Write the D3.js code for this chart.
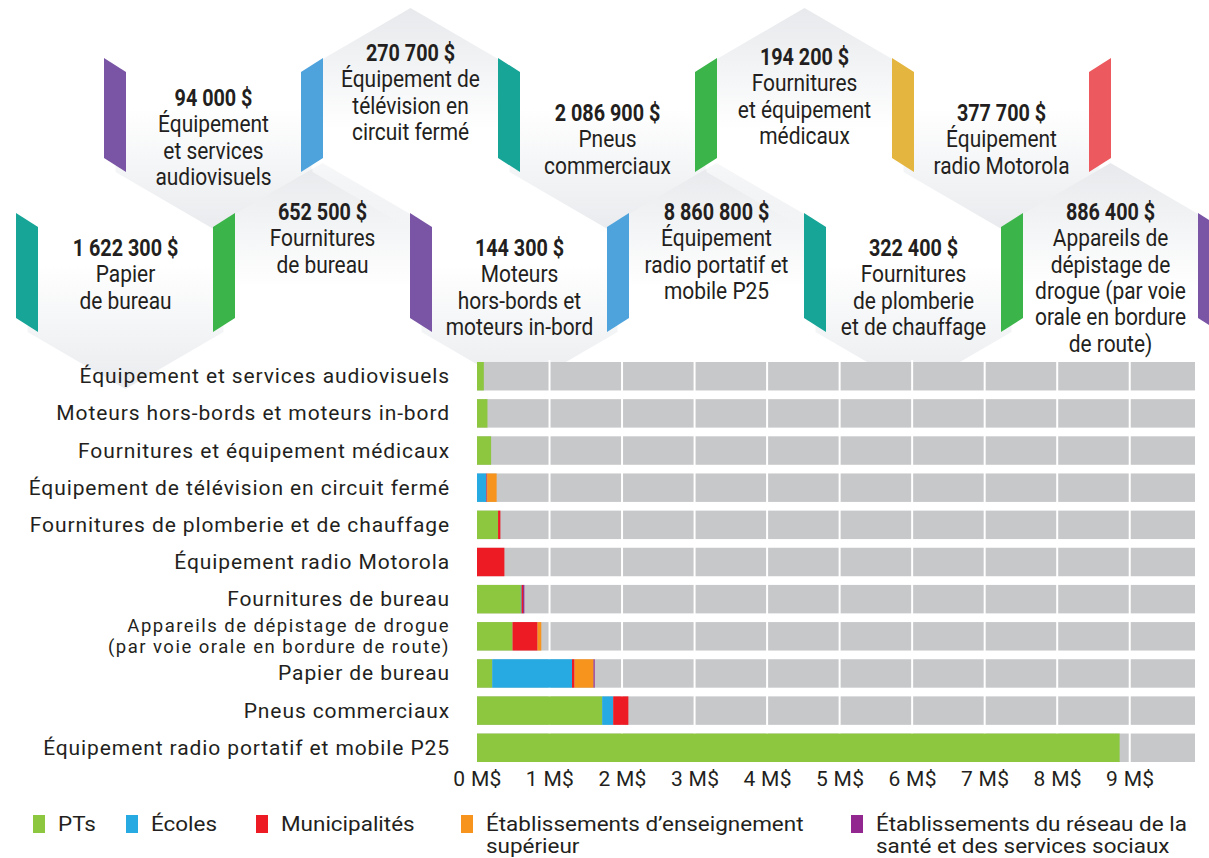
<!DOCTYPE html>
<html>
<head>
<meta charset="utf-8" />
<title>Achats</title>
<style>
  body { margin: 0; background: #fff; }
  text { fill: #231f20; }
</style>
</head>
<body>
<svg id="chart" width="1209" height="858"></svg>
<script src="https://d3js.org/d3.v7.min.js"></script>
<script>

// --- donnees ---
var categories = [
  "Équipement et services audiovisuels",
  "Moteurs hors-bords et moteurs in-bord",
  "Fournitures et équipement médicaux",
  "Équipement de télévision en circuit fermé",
  "Fournitures de plomberie et de chauffage",
  "Équipement radio Motorola",
  "Fournitures de bureau",
  "Appareils de dépistage de drogue \n(par voie orale en bordure de route)",
  "Papier de bureau",
  "Pneus commerciaux",
  "Équipement radio portatif et mobile P25"
];

var seriesNames = ["PTs", "Écoles", "Municipalités",
  "Établissements d’enseignement\nsupérieur",
  "Établissements du réseau de la\nsanté et des services sociaux"];
var seriesColors = ["#8dc63f", "#27aae1", "#ed1c24", "#f7941d", "#92278f"];

// valeurs en M$
var pts           = [0.094, 0.1443, 0.1942, 0,      0.2904, 0,      0.605,  0.490,  0.210,  1.726, 8.8608];
var ecoles        = [0,     0,      0,      0.130,  0,      0,      0.010,  0,      1.100,  0.152, 0];
var municipalites = [0,     0,      0,      0.012,  0.032,  0.3777, 0.020,  0.345,  0.035,  0.209, 0];
var enseignement  = [0,     0,      0,      0.1287, 0,      0,      0,      0.0514, 0.262,  0,     0];
var sante         = [0,     0,      0,      0,      0,      0,      0.0175, 0,      0.0153, 0,     0];

var xTicks = [0, 1, 2, 3, 4, 5, 6, 7, 8, 9];

// cellules hexagonales, de gauche a droite (bas, haut, bas, haut...)
var hexAmounts = [1622300, 94000, 652500, 270700, 144300, 2086900, 8860800, 194200, 322400, 377700, 886400];
var hexLabels = [
  ["Papier", "de bureau"],
  ["Équipement", "et services", "audiovisuels"],
  ["Fournitures", "de bureau"],
  ["Équipement de", "télévision en", "circuit fermé"],
  ["Moteurs", "hors-bords et", "moteurs in-bord"],
  ["Pneus", "commerciaux"],
  ["Équipement", "radio portatif et", "mobile P25"],
  ["Fournitures", "et équipement", "médicaux"],
  ["Fournitures", "de plomberie", "et de chauffage"],
  ["Équipement", "radio Motorola"],
  ["Appareils de", "dépistage de", "drogue (par voie", "orale en bordure", "de route)"]
];
var topBarColors = ["#7a55a6", "#4fa3dc", "#17a597", "#3bb54a", "#e4b63f", "#ec5a5f"];
var bottomBarColors = ["#17a597", "#3bb54a", "#7a55a6", "#4fa3dc", "#17a597", "#3bb54a", "#7a55a6"];

// mise en page
var hexTextTop = [248, 98, 212, 53, 248, 113, 212, 57, 248, 113, 212];
var legendX = [33, 126, 256, 461, 851];

var svg = d3.select("#chart");
var frFormat = d3.formatLocale({decimal: ",", thousands: "\u00a0", grouping: [3], currency: ["", " $"]}).format(",d");

// ---------- infographie hexagonale ----------
var defs = svg.append("defs");
var gUp = defs.append("linearGradient").attr("id", "gUp").attr("x1", 0).attr("y1", 0).attr("x2", 0).attr("y2", 1);
gUp.append("stop").attr("offset", "0%").attr("stop-color", "#e7e9ec");
gUp.append("stop").attr("offset", "55%").attr("stop-color", "#ffffff");
gUp.append("stop").attr("offset", "100%").attr("stop-color", "#ffffff").attr("stop-opacity", 0);
var gDown = defs.append("linearGradient").attr("id", "gDown").attr("x1", 0).attr("y1", 0).attr("x2", 0).attr("y2", 1);
gDown.append("stop").attr("offset", "0%").attr("stop-color", "#ffffff").attr("stop-opacity", 0);
gDown.append("stop").attr("offset", "45%").attr("stop-color", "#ffffff");
gDown.append("stop").attr("offset", "100%").attr("stop-color", "#e9ebee");

var cells = hexAmounts.map(function(v, i) {
  var top = i % 2 == 1;
  var k = top ? (i - 1) / 2 : i / 2;
  return {
    amount: v,
    lines: hexLabels[i],
    cx: top ? 213.5 + 197 * k : 125.5 + 197 * k,
    y0: top ? 58 : 213,
    y1: top ? 172 : 332,
    up: (i % 4 == 2 || i % 4 == 3),
    textTop: hexTextTop[i]
  };
});

var hexG = svg.append("g");
hexG.selectAll("path").data(cells).enter().append("path")
  .attr("d", function(c) {
    var pts = [[c.cx - 98, c.y0 + 7], [c.cx, c.y0 + 7 - 57], [c.cx + 98, c.y0 + 7],
               [c.cx + 98, c.y1], [c.cx, c.y1 + 57], [c.cx - 98, c.y1]];
    return "M" + pts.join("L") + "Z";
  })
  .attr("fill", function(c) { return c.up ? "url(#gUp)" : "url(#gDown)"; });

function barPath(x, y0, y1, back) {
  var w = 22, s = 14;
  if (back) return "M" + [[x, y0], [x + w, y0 + s], [x + w, y1 + s], [x, y1]].join("L") + "Z";
  return "M" + [[x, y0 + s], [x + w, y0], [x + w, y1], [x, y1 + s]].join("L") + "Z";
}

svg.append("g").selectAll("path").data(topBarColors).enter().append("path")
  .attr("d", function(c, k) { return barPath(104 + 197 * k, 58, 158, k % 2 == 0); })
  .attr("fill", function(c) { return c; });
svg.append("g").selectAll("path").data(bottomBarColors).enter().append("path")
  .attr("d", function(c, k) { return barPath(16 + 197 * k, 213, 318, k % 2 == 0); })
  .attr("fill", function(c) { return c; });

var cellText = svg.append("g").selectAll("g").data(cells).enter().append("g");
cellText.append("text")
  .attr("text-anchor", "middle")
  .attr("transform", function(c) { return "translate(" + c.cx + "," + (c.textTop + 8) + ") scale(0.86,1)"; })
  .style("font-family", "Roboto, sans-serif")
  .style("font-weight", "bold")
  .style("font-size", "23px")
  .text(function(c) { return frFormat(c.amount) + " $"; });
cellText.each(function(c) {
  d3.select(this).selectAll("text.l").data(c.lines).enter().append("text")
    .attr("class", "l")
    .attr("text-anchor", "middle")
    .attr("transform", function(d, j) {
      return "translate(" + c.cx + "," + (c.textTop + 8 + 26.3 * (j + 1)) + ") scale(0.91,1)";
    })
    .style("font-family", "Roboto, sans-serif")
    .style("font-size", "23px")
    .text(function(d) { return d; });
});

// ---------- barres empilees ----------
var table = categories.map(function(c, i) {
  return {cat: c, s0: pts[i], s1: ecoles[i], s2: municipalites[i], s3: enseignement[i], s4: sante[i]};
});
var keys = ["s0", "s1", "s2", "s3", "s4"];
var stacked = d3.stack().keys(keys)(table);

var x = d3.scaleLinear().domain([0, 9.9]).range([477, 1195]);
var y = d3.scaleBand().domain(categories).range([362, 762]).paddingInner(0.234).paddingOuter(0);

svg.append("g").selectAll("rect").data(categories).enter().append("rect")
  .attr("x", x(0)).attr("width", x(9.9) - x(0))
  .attr("y", function(d) { return y(d); }).attr("height", y.bandwidth())
  .attr("fill", "#c7c8ca");

svg.append("g").selectAll("line").data(xTicks.slice(1)).enter().append("line")
  .attr("x1", function(d) { return x(d); }).attr("x2", function(d) { return x(d); })
  .attr("y1", 360).attr("y2", 764)
  .attr("stroke", "#fff").attr("stroke-width", 2);

svg.append("g").selectAll("g").data(stacked).enter().append("g")
  .attr("fill", function(d, i) { return seriesColors[i]; })
  .selectAll("rect").data(function(d) { return d; }).enter().append("rect")
  .attr("x", function(d) { return x(d[0]); })
  .attr("width", function(d) { return x(d[1]) - x(d[0]); })
  .attr("y", function(d) { return y(d.data.cat); })
  .attr("height", y.bandwidth());

// etiquettes des categories (une ligne par element text)
var catG = svg.append("g").selectAll("g").data(categories).enter().append("g");
catG.each(function(d) {
  var parts = d.split("\n");
  var cy = y(d) + y.bandwidth() / 2;
  d3.select(this).selectAll("text").data(parts).enter().append("text")
    .attr("text-anchor", "end")
    .attr("x", 450)
    .attr("y", function(p, j) { return parts.length > 1 ? cy - 4 + 21 * j : cy + 7; })
    .style("font-family", "Roboto, sans-serif")
    .style("font-size", parts.length > 1 ? "18.5px" : "21px")
    .style("letter-spacing", parts.length > 1 ? "1.5px" : "0.9px")
    .text(function(p) { return p; });
});

// axe x
var axis = svg.append("g")
  .attr("transform", "translate(0,771)")
  .call(d3.axisBottom(x).tickValues(xTicks).tickSize(0).tickPadding(0)
    .tickFormat(function(d) { return d + " M$"; }));
axis.select(".domain").remove();
axis.selectAll("text")
  .attr("dy", "0.71em")
  .style("font-family", "Roboto, sans-serif")
  .style("font-size", "21px")
  .style("letter-spacing", "0.3px")
  .style("fill", "#231f20");

// legende (une ligne par element text)
var leg = svg.append("g").selectAll("g").data(seriesNames).enter().append("g")
  .attr("transform", function(d, i) { return "translate(" + legendX[i] + ",0)"; });
leg.append("rect").attr("x", 0).attr("y", 815).attr("width", 12).attr("height", 18)
  .attr("fill", function(d, i) { return seriesColors[i]; });
leg.each(function(d) {
  d3.select(this).selectAll("text").data(d.split("\n")).enter().append("text")
    .attr("transform", function(p, j) { return "translate(25," + (831 + 22 * j) + ") scale(1.07,1)"; })
    .style("font-family", "Roboto, sans-serif")
    .style("font-size", "21px")
    .text(function(p) { return p; });
});

</script>
</body>
</html>
